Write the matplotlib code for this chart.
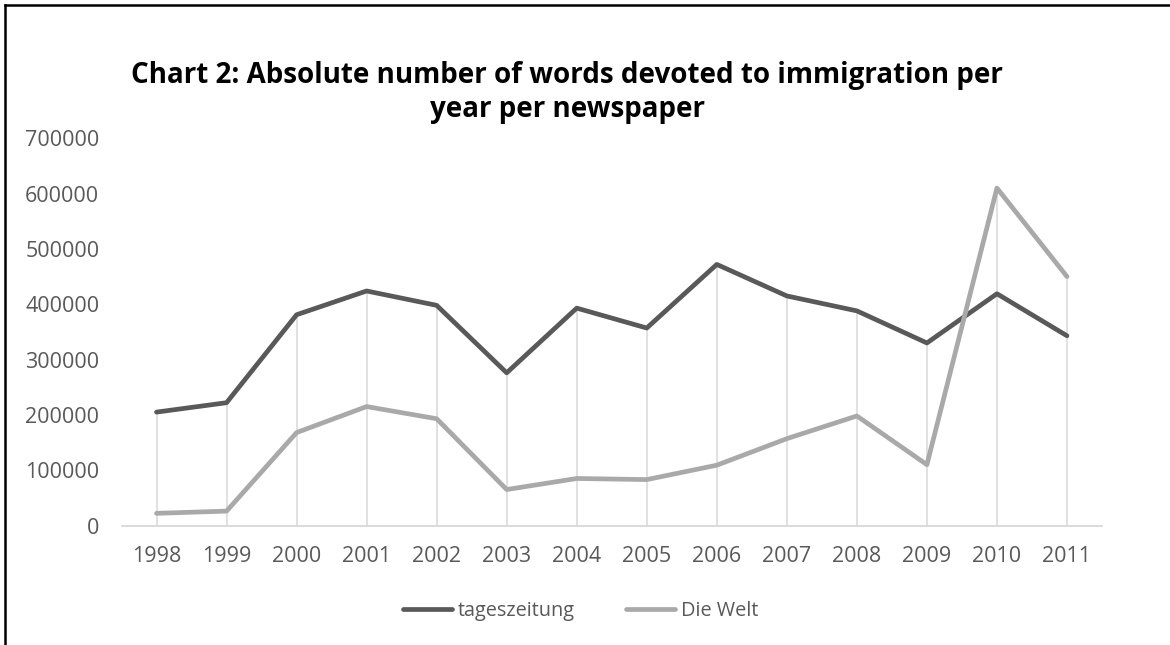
import matplotlib
matplotlib.use("Agg")
import matplotlib.pyplot as plt
from matplotlib.lines import Line2D

years = ["1998", "1999", "2000", "2001", "2002", "2003", "2004",
         "2005", "2006", "2007", "2008", "2009", "2010", "2011"]
tageszeitung = [205000, 222000, 381000, 424000, 398000, 276000, 393000,
                357000, 472000, 415000, 388000, 330000, 419000, 343000]
die_welt = [22000, 26000, 168000, 215000, 193000, 65000, 85000,
            83000, 109000, 157000, 198000, 110000, 610000, 450000]
yticks = [0, 100000, 200000, 300000, 400000, 500000, 600000, 700000]

plt.rcParams['font.family'] = ['Open Sans', 'DejaVu Sans']

W, H = 1170, 645
fig = plt.figure(figsize=(W / 100, H / 100), dpi=100)
fig.patch.set_facecolor('white')

left, right = 121.5, 1102
top, bottom = 138.3, 525.5
ax = fig.add_axes([left / W, 1 - bottom / H, (right - left) / W, (bottom - top) / H])

x = list(range(len(years)))
grid_c = '#D9D9D9'
# drop lines from the axis up to the highest series value
tops = [max(a, b) for a, b in zip(tageszeitung, die_welt)]
ax.vlines(x, 0, tops, color=grid_c, lw=1.1, zorder=1)

ax.plot(x, tageszeitung, color='#595959', lw=3.4, solid_capstyle='round',
        solid_joinstyle='round', label='tageszeitung', zorder=3)
ax.plot(x, die_welt, color='#A9A9A9', lw=3.4, solid_capstyle='round',
        solid_joinstyle='round', label='Die Welt', zorder=3)

ax.set_xlim(-0.5, len(years) - 0.5)
ax.set_ylim(0, 700000)
ax.set_xticks(x)
ax.set_xticklabels(years)
ax.set_yticks(yticks)
ax.set_yticklabels([str(v) for v in yticks])
for s in ['left', 'right', 'top']:
    ax.spines[s].set_visible(False)
ax.spines['bottom'].set_color(grid_c)
ax.spines['bottom'].set_linewidth(1.3)
ax.tick_params(axis='both', length=0, labelsize=15.5, labelcolor='#595959')
ax.tick_params(axis='x', pad=15)
ax.tick_params(axis='y', pad=16)

fig.text(567 / W, 1 - 76 / H,
         "Chart 2: Absolute number of words devoted to immigration per",
         ha='center', va='center', fontsize=20, fontweight='bold', color='black')
fig.text(567 / W, 1 - 110 / H, "year per newspaper",
         ha='center', va='center', fontsize=20, fontweight='bold', color='black')

leg = fig.legend(loc='center', bbox_to_anchor=(580.5 / W, 1 - 611 / H), ncol=2,
                 frameon=False, fontsize=14.3, handlelength=2.45, handletextpad=0.3,
                 columnspacing=2.6)
for t in leg.get_texts():
    t.set_color('#595959')

# chart border (left and top visible)
fig.add_artist(Line2D([5 / W, 5 / W], [0, 1 - 5 / H], color='black', lw=1.8,
                      transform=fig.transFigure))
fig.add_artist(Line2D([5 / W, 1], [1 - 5 / H, 1 - 5 / H], color='black', lw=1.8,
                      transform=fig.transFigure))

fig.savefig('out.png', dpi=100)
